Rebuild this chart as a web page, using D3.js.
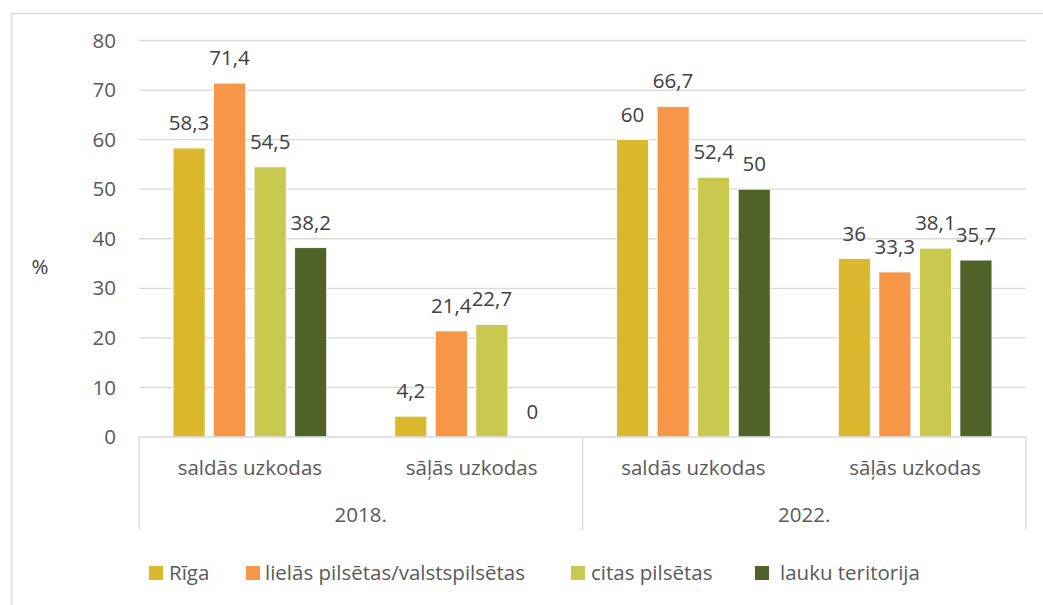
<!DOCTYPE html>
<html><head><meta charset="utf-8">
<script src="https://cdn.jsdelivr.net/npm/d3@7"></script>
<style>body{margin:0;background:#fff}svg{display:block}text{font-family:"Open Sans",sans-serif}</style>
</head><body><svg id="c" width="1043" height="605"></svg>
<script>
const years = ["2018.", "2022."];
const snackTypes = ["saldās uzkodas", "sāļās uzkodas"];
const seriesNames = ["Rīga", "lielās pilsētas/valstspilsētas", "citas pilsētas", "lauku teritorija"];
const seriesColors = ["#DBB92E", "#F79646", "#C9C84F", "#4F6228"];
// values per series, in order: 2018 saldās, 2018 sāļās, 2022 saldās, 2022 sāļās
const riga   = [58.3, 4.2, 60, 36];
const lielas = [71.4, 21.4, 66.7, 33.3];
const citas  = [54.5, 22.7, 52.4, 38.1];
const lauku  = [38.2, 0, 50, 35.7];
const yTicks = [0, 10, 20, 30, 40, 50, 60, 70, 80];

const seriesValues = [riga, lielas, citas, lauku];
const cats = [];
years.forEach(y => snackTypes.forEach(s => cats.push(y + "|" + s)));

const FS = 20.5;
const svg = d3.select("#c");
const L = 139, R = 1026, T = 40.5, B = 437;

// outer frame
svg.append("path").attr("d", `M11.5,605 V13.5 H1043`).attr("fill", "none").attr("stroke", "#d9d9d9").attr("stroke-width", 1.5);

const y = d3.scaleLinear().domain([0, 80]).range([B, T]);
const x0 = d3.scaleBand().domain(cats).range([L, R]);
const x1 = d3.scaleBand().domain(seriesNames).range([0, x0.bandwidth()]).paddingInner(0.21).paddingOuter(0.84);

// gridlines
svg.append("g").selectAll("line").data(yTicks.filter(d => d > 0)).join("line")
  .attr("x1", L).attr("x2", R).attr("y1", d => y(d)).attr("y2", d => y(d))
  .attr("stroke", "#d9d9d9").attr("stroke-width", 1.3);

// y tick labels
svg.append("g").selectAll("text").data(yTicks).join("text")
  .attr("x", 116).attr("y", d => y(d)).attr("dy", "0.35em").attr("text-anchor", "end")
  .attr("fill", "#595959").attr("font-size", FS).text(d => d);

svg.append("text").attr("x", 40).attr("y", 267).attr("dy", "0.35em").attr("text-anchor", "middle")
  .attr("fill", "#404040").attr("font-size", FS).text("%");

// bars
const gCat = svg.append("g").selectAll("g").data(cats).join("g")
  .attr("transform", d => `translate(${x0(d)},0)`);
gCat.each(function(c, ci) {
  const g = d3.select(this);
  const data = seriesNames.map((s, si) => ({s, si, v: seriesValues[si][ci]}));
  g.selectAll("rect").data(data).join("rect")
    .attr("x", d => x1(d.s)).attr("width", x1.bandwidth())
    .attr("y", d => y(d.v)).attr("height", d => B - y(d.v))
    .attr("fill", d => seriesColors[d.si]).attr("stroke", "#fff").attr("stroke-width", 0.8);
  g.selectAll("text").data(data).join("text")
    .attr("x", d => x1(d.s) + x1.bandwidth() / 2).attr("y", d => y(d.v) - 18)
    .attr("text-anchor", "middle").attr("fill", "#404040").attr("font-size", FS)
    .text(d => String(d.v).replace(".", ","));
});

// category axis
svg.append("line").attr("x1", L).attr("x2", R).attr("y1", B).attr("y2", B).attr("stroke", "#d9d9d9").attr("stroke-width", 1.3);
const yearBand = d3.scaleBand().domain(years).range([L, R]);
const seps = [L, L + yearBand.bandwidth(), R];
svg.append("g").selectAll("line").data(seps).join("line")
  .attr("x1", d => d).attr("x2", d => d).attr("y1", B).attr("y2", 530)
  .attr("stroke", "#d9d9d9").attr("stroke-width", 1.3);
svg.append("g").selectAll("text").data(cats).join("text")
  .attr("x", d => x0(d) + x0.bandwidth() / 2).attr("y", 468).attr("dy", "0.35em")
  .attr("text-anchor", "middle").attr("fill", "#595959").attr("font-size", FS)
  .text(d => d.split("|")[1]);
svg.append("g").selectAll("text").data(years).join("text")
  .attr("x", d => yearBand(d) + yearBand.bandwidth() / 2).attr("y", 515).attr("dy", "0.35em")
  .attr("text-anchor", "middle").attr("fill", "#595959").attr("font-size", FS).text(d => d);

// legend
const legX = [149, 246, 571, 755];
const legTX = [169, 265, 591, 780];
const lg = svg.append("g").selectAll("g").data(seriesNames).join("g");
lg.append("rect").attr("x", (d, i) => legX[i]).attr("y", 566).attr("width", 14).attr("height", 14)
  .attr("fill", (d, i) => seriesColors[i]);
lg.append("text").attr("x", (d, i) => legTX[i]).attr("y", 573).attr("dy", "0.35em")
  .attr("fill", "#595959").attr("font-size", FS).text(d => d);
</script></body></html>
